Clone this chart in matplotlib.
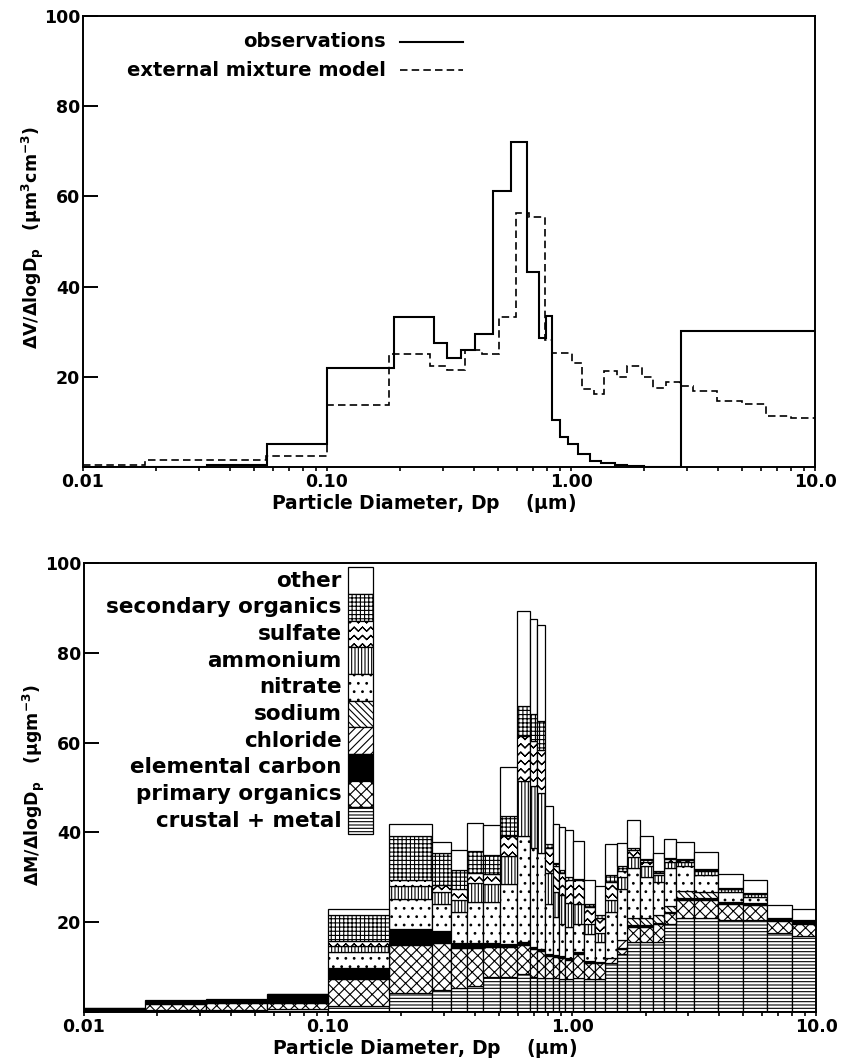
import numpy as np
import matplotlib
matplotlib.use("Agg")
import matplotlib.pyplot as plt
import matplotlib.hatch as mhatch
import matplotlib.transforms as mtransforms
from matplotlib.patches import Rectangle
from matplotlib.path import Path

plt.rcParams["font.family"] = "DejaVu Sans"
plt.rcParams["font.weight"] = "bold"
plt.rcParams["mathtext.default"] = "bf"
plt.rcParams["hatch.linewidth"] = 0.8


# 'O' hatch is not used otherwise, so turn it into a chevron / zigzag pattern for sulfate.
# each zigzag is traced forward and back so that agg's hatch fill adds no area
class ChevronHatch(mhatch.HatchPatternBase):
    def __init__(self, hatch, density):
        self.num_rows = hatch.count("O") * density
        self.half = 2 * self.num_rows + 1
        self.num_vertices = self.num_rows * self.half * 2

    def set_vertices_and_codes(self, vertices, codes):
        n = self.num_rows
        xs = np.linspace(0.0, 1.0, self.half)
        ys = np.where(np.arange(self.half) % 2 == 0, 0.0, 0.5 / n)
        xs = np.concatenate([xs, xs[::-1]])
        ys = np.concatenate([ys, ys[::-1]])
        m = 2 * self.half
        for i in range(n):
            sl = slice(i * m, (i + 1) * m)
            vertices[sl, 0] = xs
            vertices[sl, 1] = i / n + 0.25 / n + ys
            codes[sl] = Path.LINETO
            codes[i * m] = Path.MOVETO


mhatch._hatch_types = [ChevronHatch if t is mhatch.LargeCircles else t
                       for t in mhatch._hatch_types]

# ---- top panel: volume distribution (um3 cm-3)
obs_edges = [0.01, 0.0321, 0.0567, 0.1, 0.1876, 0.274, 0.31, 0.353, 0.405, 0.477,
             0.569, 0.663, 0.738, 0.792, 0.838, 0.904, 0.975, 1.07, 1.20, 1.33,
             1.51, 1.7, 2.0, 2.81, 10.0]
obs_values = [0.0, 0.5, 5.2, 21.9, 33.3, 27.5, 24.1, 25.9, 29.5, 61.3, 72.0, 43.3,
              28.6, 33.4, 10.5, 6.6, 5.0, 2.8, 1.3, 0.9, 0.5, 0.3, 0.0, 30.2]

model_edges = [0.01, 0.0179, 0.0562, 0.1, 0.1795, 0.263, 0.31, 0.367, 0.43, 0.508,
               0.593, 0.675, 0.782, 0.834, 1.007, 1.107, 1.238, 1.37, 1.55, 1.70,
               1.95, 2.16, 2.45, 2.79, 3.16, 3.98, 5.0, 6.3, 7.94, 10.0]
model_values = [0.5, 1.6, 2.4, 13.8, 25.0, 22.4, 21.6, 25.9, 25.0, 33.3, 56.3, 55.5,
                28.2, 25.2, 23.0, 17.3, 16.2, 21.2, 20.0, 22.5, 20.0, 17.5, 18.9,
                18.0, 16.9, 14.7, 14.0, 11.4, 10.8]

# ---- bottom panel: mass distribution by species (ug m-3), cumulative layer tops
bin_edges = [0.01, 0.0178, 0.0316, 0.0562, 0.1, 0.178, 0.266, 0.318, 0.370, 0.433,
             0.507, 0.597, 0.673, 0.717, 0.775, 0.833, 0.888, 0.936, 1.012, 1.119,
             1.242, 1.365, 1.524, 1.685, 1.90, 2.142, 2.389, 2.668, 3.16, 3.98,
             5.01, 6.31, 7.94, 10.0]
top_crustal = [0.0, 0.4, 0.4, 0.6, 1.4, 4.2, 5.0, 5.4, 5.8, 7.9, 7.9, 8.5, 7.8, 7.6,
               7.6, 7.6, 7.3, 7.3, 7.6, 7.3, 7.3, 10.8, 13.0, 15.5, 15.5, 15.5, 19.5,
               21.0, 21.0, 20.5, 20.5, 17.5, 17.0]
top_primary = [0.1, 1.8, 1.9, 2.1, 7.3, 14.9, 15.4, 14.3, 14.3, 14.5, 14.5, 15.0,
               14.0, 13.6, 12.5, 12.3, 12.0, 11.5, 13.0, 11.0, 10.8, 10.8, 14.0,
               19.0, 19.0, 19.5, 22.0, 25.0, 25.0, 24.0, 23.8, 20.2, 19.5]
top_ec = [0.8, 2.3, 2.6, 3.8, 9.7, 18.4, 18.0, 15.4, 15.3, 15.3, 15.1, 15.5, 14.4,
          14.0, 13.0, 12.7, 12.5, 12.1, 13.4, 11.4, 11.1, 10.9, 14.2, 19.3, 19.3,
          19.8, 22.3, 25.3, 25.3, 24.3, 24.1, 20.5, 20.0]
top_chloride = [0.8, 2.3, 2.6, 3.8, 9.7, 18.4, 18.0, 15.4, 15.3, 15.3, 15.1, 15.5,
                14.4, 14.0, 13.0, 12.7, 12.5, 12.1, 13.4, 11.4, 11.1, 12.1, 16.0,
                19.3, 19.3, 19.8, 22.3, 25.3, 25.3, 24.3, 24.1, 20.5, 20.0]
top_sodium = [0.8, 2.3, 2.6, 3.8, 9.7, 18.4, 18.0, 15.4, 15.3, 15.3, 15.1, 15.5,
              14.4, 14.0, 13.0, 12.7, 12.5, 12.1, 13.4, 11.4, 11.1, 12.1, 16.0,
              21.0, 21.0, 21.5, 23.5, 27.0, 26.8, 24.5, 24.3, 20.5, 20.0]
top_nitrate = [0.8, 2.3, 2.6, 3.8, 13.4, 25.1, 24.1, 22.2, 24.5, 24.5, 28.4, 39.1,
               36.5, 35.4, 24.0, 21.1, 19.6, 19.0, 19.7, 17.4, 15.5, 22.2, 27.5,
               32.0, 30.0, 29.0, 32.0, 32.5, 30.5, 26.7, 25.5, 20.6, 20.1]
top_ammonium = [0.8, 2.3, 2.6, 3.8, 14.7, 28.0, 26.7, 25.0, 28.8, 28.6, 34.7, 51.5,
                50.3, 48.8, 31.0, 26.7, 26.0, 24.3, 24.1, 19.6, 17.5, 25.0, 30.0,
                34.5, 32.5, 30.5, 33.5, 33.5, 31.3, 27.3, 26.3, 20.7, 20.2]
top_sulfate = [0.8, 2.3, 2.6, 3.8, 15.8, 29.5, 28.2, 27.3, 31.0, 30.8, 39.1, 61.4,
               60.4, 58.4, 36.5, 32.4, 30.9, 29.5, 29.3, 23.4, 21.0, 29.0, 31.5,
               36.0, 33.5, 31.0, 34.0, 33.8, 31.6, 27.5, 26.4, 20.8, 20.3]
top_secondary = [0.8, 2.4, 2.7, 3.9, 21.7, 39.3, 35.3, 31.7, 35.8, 35.0, 43.6, 68.2,
                 66.4, 64.7, 37.5, 33.1, 31.6, 30.1, 29.6, 24.0, 21.5, 30.5, 32.5,
                 36.5, 34.0, 31.5, 34.3, 34.0, 31.8, 27.6, 26.5, 20.9, 20.4]
top_total = [0.9, 2.6, 2.9, 4.1, 23.0, 41.8, 37.8, 36.1, 42.1, 41.6, 54.5, 89.3,
             87.6, 86.1, 45.8, 41.9, 41.3, 40.5, 38.1, 29.3, 28.1, 37.5, 37.6, 42.7,
             39.3, 35.3, 38.6, 37.8, 35.6, 30.8, 29.5, 23.8, 23.0]

species = ["crustal + metal", "primary organics", "elemental carbon", "chloride",
           "sodium", "nitrate", "ammonium", "sulfate", "secondary organics", "other"]
tops = [top_crustal, top_primary, top_ec, top_chloride, top_sodium, top_nitrate,
        top_ammonium, top_sulfate, top_secondary, top_total]
hatches = ["-----", "xxx", None, "////", "\\\\\\\\\\", "..", "|||||", "OO", "++++", None]
faces = ["white", "white", "black", "white", "white", "white", "white", "white",
         "white", "white"]

fig = plt.figure(figsize=(8.42, 10.59), dpi=100)
ax1 = fig.add_axes([0.0986, 0.5590, 0.8694, 0.4259])
ax2 = fig.add_axes([0.0998, 0.0444, 0.8694, 0.4240])


def style_axes(ax):
    ax.set_xscale("log")
    ax.set_xlim(0.01, 10.0)
    ax.set_ylim(0, 100)
    ax.set_xticks([0.01, 0.1, 1.0, 10.0])
    ax.set_xticklabels(["0.01", "0.10", "1.00", "10.0"])
    ax.set_yticks([0, 20, 40, 60, 80, 100])
    ax.set_yticklabels(["", "20", "40", "60", "80", "100"])
    ax.tick_params(axis="y", direction="in", length=11, width=1.4, labelsize=12.5, pad=2)
    ax.tick_params(axis="x", which="both", direction="out", length=3, width=1.2,
                   labelsize=12.5, pad=1)
    for s in ax.spines.values():
        s.set_linewidth(1.4)
    ax.text(0.465, -0.081, r"Particle Diameter, Dp    ($\mu$m)", transform=ax.transAxes,
            ha="center", va="center", fontsize=13.5)


style_axes(ax1)
style_axes(ax2)

# top panel
ax1.stairs(obs_values, obs_edges, baseline=None, color="black", linewidth=1.5)
ax1.stairs(model_values, model_edges, baseline=None, color="black", linewidth=1.2,
           linestyle=(0, (4.5, 2.5)))
ax1.text(0.414, 94.3, "observations", transform=ax1.get_yaxis_transform(),
         ha="right", va="center", fontsize=14)
ax1.text(0.414, 88.0, "external mixture model", transform=ax1.get_yaxis_transform(),
         ha="right", va="center", fontsize=14)
ax1.plot([0.433, 0.519], [94.3, 94.3], transform=ax1.get_yaxis_transform(),
         color="black", linewidth=1.5)
ax1.plot([0.433, 0.519], [88.0, 88.0], transform=ax1.get_yaxis_transform(),
         color="black", linewidth=1.2, linestyle=(0, (4.5, 2.5)))
ax1.text(-0.069, 0.51, r"$\Delta$V/$\Delta$logD$_p$   ($\mu$m$^3$cm$^{-3}$)",
         transform=ax1.transAxes, rotation=90, ha="center", va="center", fontsize=12.5)

# bottom panel: stacked species
left = np.array(bin_edges[:-1])
width = np.diff(bin_edges)
prev = np.zeros(len(left))
for name, top, h, fc in zip(species, tops, hatches, faces):
    top = np.array(top)
    height = top - prev
    keep = height > 0.05
    ax2.bar(left[keep], height[keep], width=width[keep], bottom=prev[keep], align="edge",
            facecolor=fc, edgecolor="black", hatch=h, linewidth=0.9)
    prev = top

# species key, drawn as a stacked column
trans = mtransforms.blended_transform_factory(ax2.transAxes, ax2.transData)
box_h = 5.94
for i, (name, h, fc) in enumerate(zip(species[::-1], hatches[::-1], faces[::-1])):
    y0 = 99.0 - (i + 1) * box_h
    ax2.add_patch(Rectangle((0.3607, y0), 0.0341, box_h, transform=trans,
                            facecolor=fc, edgecolor="black", hatch=h, linewidth=0.9))
    ax2.text(0.352, y0 + box_h / 2, name, transform=trans, ha="right", va="center",
             fontsize=15.5)
ax2.text(-0.069, 0.505, r"$\Delta$M/$\Delta$logD$_p$   ($\mu$gm$^{-3}$)",
         transform=ax2.transAxes, rotation=90, ha="center", va="center", fontsize=12.5)

fig.savefig("out.png", dpi=100)
